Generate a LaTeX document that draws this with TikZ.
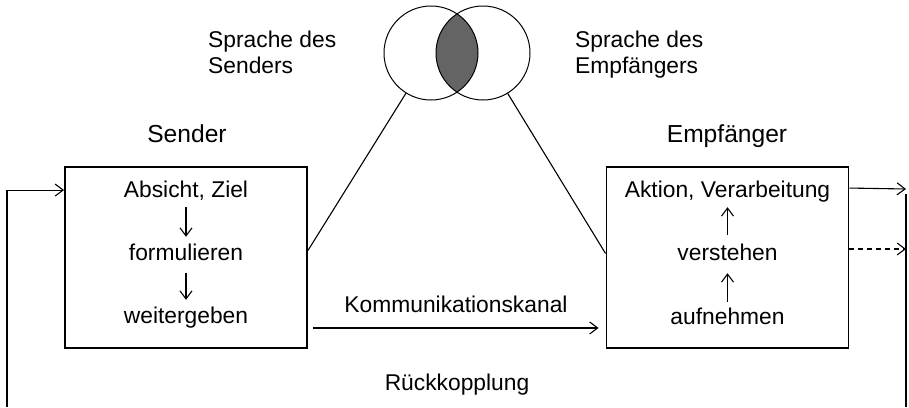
\documentclass[tikz,border=0pt]{standalone}
\usepackage{fontspec}
\setmainfont{Liberation Sans}
\usetikzlibrary{arrows.meta}
\definecolor{overlap}{HTML}{646464}
\begin{document}
\begin{tikzpicture}[x=1pt,y=-1pt,
  txt/.style={font=\fontsize{22.8}{25}\selectfont, inner sep=0pt, anchor=base,
    text height=17pt, text depth=5pt},
  head/.style={font=\fontsize{24.6}{27}\selectfont, inner sep=0pt, anchor=base},
  lang/.style={font=\fontsize{22.8}{25.5}\selectfont, inner sep=0pt, align=left, anchor=base west},
  stagebox/.style={draw, line width=1.9pt, minimum width=242pt, minimum height=181pt, inner sep=0pt},
  venn/.style={circle, draw, line width=1pt, minimum size=94pt, inner sep=0pt},
  conn/.style={line width=1.1pt},
  tip/.style={-{Straight Barb[length=8pt,width=12pt,line width=1.1pt]}},
]
\useasboundingbox (0,0) rectangle (909,407);

% the two language circles with their shared part
\coordinate (lcc) at (431,53);
\coordinate (rcc) at (483,53);
\begin{scope}
  \clip (lcc) circle[radius=47pt];
  \fill[overlap] (rcc) circle[radius=47pt];
\end{scope}
\node[venn] (lc) at (lcc) {};
\node[venn] (rc) at (rcc) {};
\node[lang] (ls) at (208,73) {Sprache des\\Senders};
\node[lang] (rs) at (575,73) {Sprache des\\Empfängers};

% sender and receiver
\node[head] (sh) at (187,142) {Sender};
\node[head] (eh) at (727,142) {Empfänger};
\node[stagebox] (sbox) at (186,257.5) {};
\node[stagebox] (ebox) at (727.5,257.5) {};

\node[txt] (a1) at (186,197) {Absicht, Ziel};
\node[txt] (a2) at (186,260) {formulieren};
\node[txt] (a3) at (186,323) {weitergeben};
\draw[conn,tip,shorten <=5pt,shorten >=6pt] (a1) -- (a2);
\draw[conn,tip,shorten <=8pt,shorten >=6pt] (a2) -- (a3);

\node[txt] (b1) at (727.5,197) {Aktion, Verarbeitung};
\node[txt] (b2) at (727.5,260) {verstehen};
\node[txt] (b3) at (727.5,324) {aufnehmen};
\draw[conn,tip,shorten <=8pt,shorten >=5pt] (b2) -- (b1);
\draw[conn,tip,shorten <=5pt,shorten >=8pt] (b3) -- (b2);

% links from the boxes to the languages
\draw[conn] ([yshift=7pt]sbox.east) -- (lc);
\draw[conn] ([yshift=4pt]ebox.west) -- (rc);

% channel
\node[txt] (kan) at (456,312) {Kommunikationskanal};
\draw[conn,tip] ([shift={(5pt,21pt)}]sbox.south east) -- ([shift={(-7pt,21pt)}]ebox.south west);

% feedback
\node[txt] (rk) at (457,390) {Rückkopplung};
\coordinate (fbl) at (7,407);
\coordinate (fbrt) at (906,189);
\coordinate (fbr) at (906,407);
\draw[conn,tip] (fbl) |- ([yshift=-24pt]sbox.north west);
\draw[conn,tip] ([yshift=-22pt]ebox.north east) -- (fbrt);
\draw[conn] ([yshift=-5pt]fbrt) -- (fbr);
\draw[conn,tip,dash pattern=on 5pt off 4pt] (ebox.east |- 0,249) -- (fbrt |- 0,249);
\end{tikzpicture}
\end{document}
